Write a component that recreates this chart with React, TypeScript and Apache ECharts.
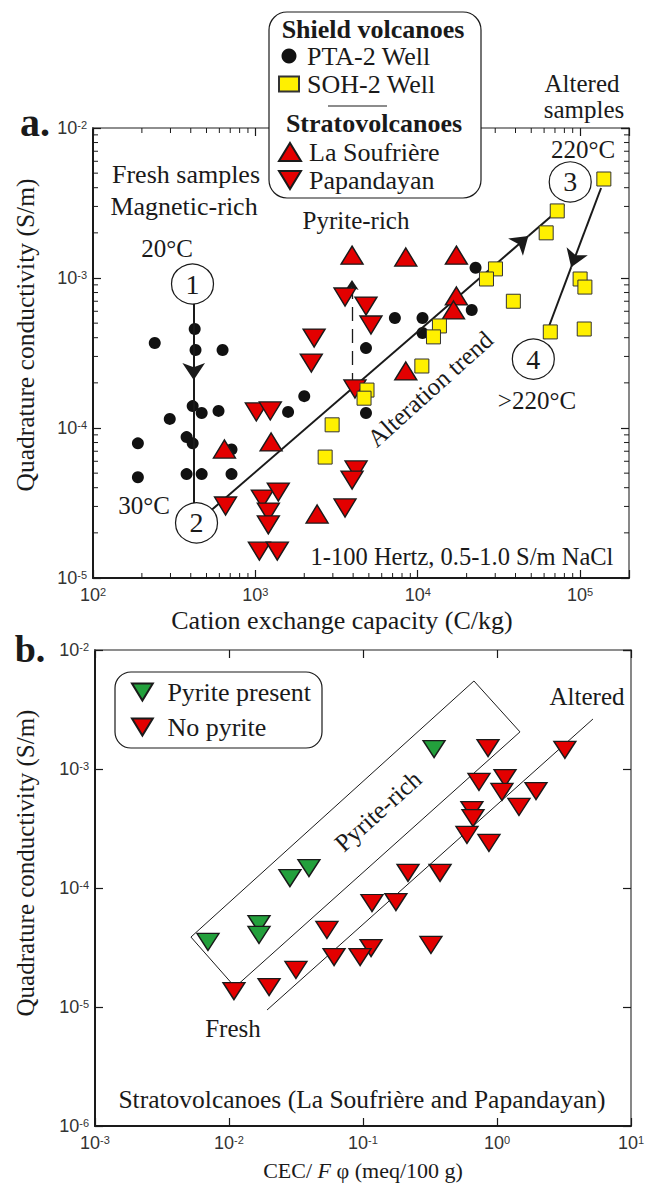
import { useEffect, useRef } from 'react';
import * as echarts from 'echarts';

const SERIF = 'Liberation Serif, serif';
const SANS = 'Liberation Sans, Arial, sans-serif';
const INK = '#1a1a1a';
const RED = '#e30000';
const GREEN = '#23a03c';
const YELLOW = '#fff000';
const DOWN_TRIANGLE = 'path://M0,0 L22,0 L11,18 Z';

// ---------- Panel a: CEC (C/kg) vs quadrature conductivity (S/m) ----------
const ptaCec = [423, 240, 428, 628, 411, 467, 593, 297, 1590, 2000, 4800, 4800, 7230, 189, 377, 411, 713, 189, 377, 467, 713, 10700, 10700, 21500, 22700];
const ptaSigma = [4.57e-4, 3.69e-4, 3.31e-4, 3.31e-4, 1.4e-4, 1.26e-4, 1.3e-4, 1.15e-4, 1.28e-4, 1.63e-4, 3.41e-4, 1.26e-4, 5.41e-4, 7.9e-5, 8.7e-5, 7.9e-5, 7.2e-5, 4.7e-5, 4.93e-5, 4.93e-5, 4.93e-5, 5.41e-4, 4.3e-4, 6.12e-4, 1.17e-3];

const sohCec = [140000, 72300, 61800, 30100, 26500, 100000, 107000, 38800, 13600, 12500, 65500, 106000, 10600, 4870, 4670, 2970, 2690];
const sohSigma = [4.57e-3, 2.8e-3, 2.0e-3, 1.15e-3, 9.85e-4, 9.85e-4, 8.7e-4, 7.0e-4, 4.79e-4, 4.05e-4, 4.37e-4, 4.57e-4, 2.59e-4, 1.79e-4, 1.58e-4, 1.05e-4, 6.4e-5];

const soufriereCec = [3940, 8440, 17300, 17300, 16600, 8440, 2400, 645, 1250];
const soufriereSigma = [1.42e-3, 1.38e-3, 1.42e-3, 7.59e-4, 6.12e-4, 2.4e-4, 2.67e-5, 7.24e-5, 8.07e-5];

const papandayanCec = [3565, 4800, 5150, 2300, 2210, 4105, 1014, 1236, 655, 1104, 1384, 1202, 1202, 1059, 1365, 4170, 3940, 3565];
const papandayanSigma = [7.47e-4, 6.5e-4, 4.86e-4, 3.98e-4, 2.71e-4, 1.82e-4, 1.28e-4, 1.3e-4, 3.02e-5, 3.36e-5, 3.74e-5, 2.75e-5, 2.26e-5, 1.51e-5, 1.51e-5, 5.25e-5, 4.5e-5, 2.93e-5];

// Numbered alteration stages
const stageLabels = ['1', '2', '3', '4'];
const stageCec = [410, 434, 86900, 51500];
const stageSigma = [9.12e-4, 2.33e-5, 4.37e-3, 2.88e-4];

// Path segments between stages: [x1, y1, x2, y2, arrowhead at end]
const stagePaths = [
  [417, 6.71e-4, 417, 2.09e-4, 1],
  [417, 2.09e-4, 417, 3.16e-5, 0],
  [537, 2.84e-5, 48000, 1.905e-3, 1],
  [48000, 1.905e-3, 79800, 3.07e-3, 0],
  [134600, 3.98e-3, 88100, 1.18e-3, 1],
  [88100, 1.18e-3, 60100, 3.92e-4, 0],
];
// Dashed pyrite shift
const pyriteShift = [3936, 1.875e-4, 3936, 9.7e-4];

// ---------- Panel b: CEC/Fφ (meq/100 g) vs quadrature conductivity ----------
const pyriteX = [0.339, 0.0395, 0.0285, 0.01675, 0.01675, 0.00697];
const pyriteY = [1.47e-3, 1.47e-4, 1.21e-4, 4.98e-5, 4.03e-5, 3.52e-5];

const noPyriteX = [0.857, 3.21, 0.734, 1.148, 1.089, 1.954, 1.459, 0.65, 0.662, 0.597, 0.871, 0.2168, 0.376, 0.1167, 0.176, 0.0538, 0.1148, 0.0951, 0.0608, 0.3215, 0.0316, 0.0199, 0.01089];
const noPyriteY = [1.5e-3, 1.45e-3, 7.78e-4, 8.4e-4, 6.41e-4, 6.53e-4, 4.8e-4, 4.52e-4, 3.87e-4, 2.79e-4, 2.39e-4, 1.34e-4, 1.34e-4, 7.48e-5, 7.62e-5, 4.44e-5, 3.13e-5, 2.63e-5, 2.63e-5, 3.32e-5, 2.05e-5, 1.47e-5, 1.36e-5];

const pyriteBoxX = [0.673, 1.484, 0.01109, 0.0052, 0.673];
const pyriteBoxY = [5.49e-3, 2.05e-3, 1.47e-5, 3.87e-5, 5.49e-3];
const alteredLineX = [0.01923, 5.2];
const alteredLineY = [9.44e-6, 2.63e-3];

// ---------- Axes ----------
const aX = [100, 2e5];
const aY = [1e-5, 1e-2];
const bX = [1e-3, 10];
const bY = [1e-6, 1e-2];
const decadesAX = [100, 1000, 10000, 100000];
const decadesAY = [1e-5, 1e-4, 1e-3];
const minorSteps = [2, 3, 4, 5, 6, 7, 8, 9];

const minorTicks = (decades: number[], lo: number, hi: number) => {
  const out: number[] = [];
  decades.forEach((d) => minorSteps.forEach((m) => {
    const v = d * m;
    if (v > lo * 1.0001 && v < hi * 0.9999) out.push(v);
  }));
  return out;
};

const powerLabel = (v: number) => {
  const l = Math.log10(v);
  const e = Math.round(l);
  if (Math.abs(l - e) > 1e-6) return '';
  return `{m|10}{e|${e}}`;
};
const tickRich = {
  m: { fontFamily: SANS, fontSize: 18, color: '#333' },
  e: { fontFamily: SANS, fontSize: 11, color: '#333', verticalAlign: 'top' },
};

const serifRich = (size: number, extra: any = {}) => ({
  t: { fontFamily: SERIF, fontSize: size, color: INK, ...extra },
  i: { fontFamily: SERIF, fontSize: size, color: INK, fontStyle: 'italic', ...extra },
});

const majorTick = { show: true, inside: true, length: 8, lineStyle: { color: INK, width: 1.2 } };
const mainLine = { show: true, lineStyle: { color: INK, width: 2 } };
const farLine = { show: true, lineStyle: { color: '#6a6a6a', width: 1.6 } };

const logAxis = (gridIndex: number, range: number[], position: string, extra: any) => ({
  type: 'log',
  logBase: 10,
  gridIndex,
  min: range[0],
  max: range[1],
  position,
  splitLine: { show: false },
  axisTick: majorTick,
  ...extra,
});

const tickSeries = (vals: number[], horizontal: boolean, xr: number[], yr: number[], xi: number, yi: number) => ({
  type: 'custom',
  xAxisIndex: xi,
  yAxisIndex: yi,
  silent: true,
  clip: false,
  z: 3,
  data: vals.map((v) => (horizontal ? [v, yr[0]] : [xr[0], v])),
  encode: { x: 0, y: 1 },
  renderItem: (params: any, api: any) => {
    const v = horizontal ? api.value(0) : api.value(1);
    const style = { stroke: INK, lineWidth: 1 };
    if (horizontal) {
      const b = api.coord([v, yr[0]]);
      const t = api.coord([v, yr[1]]);
      return {
        type: 'group',
        children: [
          { type: 'line', shape: { x1: b[0], y1: b[1], x2: b[0], y2: b[1] - 5 }, style },
          { type: 'line', shape: { x1: t[0], y1: t[1], x2: t[0], y2: t[1] + 5 }, style },
        ],
      };
    }
    const l = api.coord([xr[0], v]);
    const r = api.coord([xr[1], v]);
    return {
      type: 'group',
      children: [
        { type: 'line', shape: { x1: l[0], y1: l[1], x2: l[0] + 5, y2: l[1] }, style },
        { type: 'line', shape: { x1: r[0], y1: r[1], x2: r[0] - 5, y2: r[1] }, style },
      ],
    };
  },
});

const pairs = (xs: number[], ys: number[]) => xs.map((x, i) => [x, ys[i]]);

const triangleStyle = (color: string) => ({ color, borderColor: INK, borderWidth: 1.4, opacity: 1 });

const text = (t: string, x: number, y: number, size = 25, extra: any = {}, rotation = 0) => ({
  type: 'text',
  x,
  y,
  rotation,
  z: 20,
  style: { text: t, fontFamily: SERIF, fontSize: size, fill: INK, align: 'center', verticalAlign: 'middle', ...extra },
});

const legendBase = {
  orient: 'vertical',
  padding: 0,
  selectedMode: false,
  z: 10,
  formatter: (name: string) => `{t|${name}}`,
};

const buildOption = () => {
  const arrowLines: any[] = stagePaths.map((p) => [
    { coord: [p[0], p[1]], symbol: 'none' },
    { coord: [p[2], p[3]], symbol: p[4] ? 'arrow' : 'none', symbolSize: 17 },
  ]);
  arrowLines.push([
    { coord: [pyriteShift[0], pyriteShift[1]], symbol: 'none', lineStyle: { type: [14, 8], width: 1.3 } },
    { coord: [pyriteShift[2], pyriteShift[3]], symbol: 'arrow', symbolSize: 10 },
  ]);

  return {
    animation: false,
    backgroundColor: '#fff',
    textStyle: { fontFamily: SERIF },
    grid: [
      { left: 93, top: 128, width: 536, height: 450, outerBoundsMode: 'none' },
      { left: 95, top: 650, width: 536, height: 476, outerBoundsMode: 'none' },
    ],
    xAxis: [
      logAxis(0, aX, 'bottom', {
        axisLine: mainLine,
        axisLabel: { formatter: powerLabel, rich: tickRich, margin: 8 },
        name: '{t|Cation exchange capacity (C/kg)}',
        nameLocation: 'middle',
        nameGap: 29,
        nameTextStyle: { verticalAlign: 'top', padding: [0, 38, 0, 0], rich: serifRich(26) },
      }),
      logAxis(0, aX, 'top', { axisLine: farLine, axisLabel: { show: false } }),
      logAxis(1, bX, 'bottom', {
        axisLine: mainLine,
        axisLabel: { formatter: powerLabel, rich: tickRich, margin: 8 },
        name: '{t|CEC/ }{i|F}{t| φ (meq/100 g)}',
        nameLocation: 'middle',
        nameGap: 33,
        nameTextStyle: { verticalAlign: 'top', rich: serifRich(22) },
      }),
      logAxis(1, bX, 'top', { axisLine: farLine, axisLabel: { show: false } }),
    ],
    yAxis: [
      logAxis(0, aY, 'left', {
        axisLine: mainLine,
        axisLabel: { formatter: powerLabel, rich: tickRich, margin: 6 },
        name: '{t|Quadrature conductivity (S/m)}',
        nameLocation: 'middle',
        nameGap: 55,
        nameTextStyle: { padding: [0, 0, 0, 36], rich: serifRich(25.5) },
      }),
      logAxis(0, aY, 'right', { axisLine: farLine, axisLabel: { show: false } }),
      logAxis(1, bY, 'left', {
        axisLine: mainLine,
        axisLabel: { formatter: powerLabel, rich: tickRich, margin: 6 },
        name: '{t|Quadrature conductivity (S/m)}',
        nameLocation: 'middle',
        nameGap: 57,
        nameTextStyle: { padding: [0, 0, 0, 50], rich: serifRich(25) },
      }),
      logAxis(1, bY, 'right', { axisLine: farLine, axisLabel: { show: false } }),
    ],
    legend: [
      {
        ...legendBase,
        data: ['PTA-2 Well', 'SOH-2 Well'],
        left: 278,
        top: 43,
        itemWidth: 20,
        itemHeight: 15,
        itemGap: 2,
        textStyle: { rich: serifRich(26, { lineHeight: 26, padding: [0, 0, 0, 3] }) },
      },
      {
        ...legendBase,
        data: ['La Soufrière', { name: 'Papandayan', icon: DOWN_TRIANGLE }],
        left: 278,
        top: 139,
        itemWidth: 22,
        itemHeight: 18,
        itemGap: 2,
        textStyle: { rich: serifRich(26, { lineHeight: 26, padding: [0, 0, 0, 3] }) },
      },
      {
        ...legendBase,
        data: [
          { name: 'Pyrite present', icon: DOWN_TRIANGLE },
          { name: 'No pyrite', icon: DOWN_TRIANGLE },
        ],
        left: 131,
        top: 679,
        itemWidth: 22,
        itemHeight: 17,
        itemGap: 9,
        textStyle: { rich: serifRich(26, { lineHeight: 26, padding: [0, 0, 0, 9] }) },
      },
    ],
    series: [
      {
        name: 'PTA-2 Well',
        type: 'scatter',
        xAxisIndex: 0,
        yAxisIndex: 0,
        symbol: 'circle',
        symbolSize: 12,
        itemStyle: { color: '#111', opacity: 1 },
        z: 4,
        data: pairs(ptaCec, ptaSigma),
      },
      {
        name: 'Papandayan',
        type: 'scatter',
        xAxisIndex: 0,
        yAxisIndex: 0,
        symbol: 'triangle',
        symbolRotate: 180,
        symbolSize: [22, 18],
        itemStyle: triangleStyle(RED),
        z: 5,
        data: pairs(papandayanCec, papandayanSigma),
      },
      {
        name: 'La Soufrière',
        type: 'scatter',
        xAxisIndex: 0,
        yAxisIndex: 0,
        symbol: 'triangle',
        symbolSize: [22, 18],
        itemStyle: triangleStyle(RED),
        z: 5,
        data: pairs(soufriereCec, soufriereSigma),
      },
      {
        name: 'SOH-2 Well',
        type: 'scatter',
        xAxisIndex: 0,
        yAxisIndex: 0,
        symbol: 'rect',
        symbolSize: 14,
        itemStyle: { color: YELLOW, borderColor: '#333', borderWidth: 1, opacity: 1 },
        z: 6,
        data: pairs(sohCec, sohSigma),
      },
      {
        name: 'stages',
        type: 'scatter',
        xAxisIndex: 0,
        yAxisIndex: 0,
        symbol: 'circle',
        symbolSize: [42, 40],
        silent: true,
        z: 7,
        itemStyle: { color: '#fff', borderColor: INK, borderWidth: 1.2, opacity: 1 },
        label: {
          show: true,
          position: 'inside',
          formatter: '{t|{b}}',
          rich: serifRich(28),
        },
        data: stageLabels.map((n, i) => ({ name: n, value: [stageCec[i], stageSigma[i]] })),
        markLine: {
          silent: true,
          animation: false,
          symbol: ['none', 'arrow'],
          symbolSize: 17,
          label: { show: false },
          emphasis: { disabled: true },
          lineStyle: { color: INK, width: 2, type: 'solid' },
          data: arrowLines,
        },
      },
      tickSeries(minorTicks(decadesAX, aX[0], aX[1]), true, aX, aY, 0, 0),
      tickSeries(minorTicks(decadesAY, aY[0], aY[1]), false, aX, aY, 0, 0),
      {
        name: 'Pyrite present',
        type: 'scatter',
        xAxisIndex: 2,
        yAxisIndex: 2,
        symbol: 'triangle',
        symbolRotate: 180,
        symbolSize: [22, 17],
        itemStyle: triangleStyle(GREEN),
        z: 5,
        data: pairs(pyriteX, pyriteY),
      },
      {
        name: 'No pyrite',
        type: 'scatter',
        xAxisIndex: 2,
        yAxisIndex: 2,
        symbol: 'triangle',
        symbolRotate: 180,
        symbolSize: [22, 17],
        itemStyle: triangleStyle(RED),
        z: 5,
        data: pairs(noPyriteX, noPyriteY),
      },
      {
        name: 'pyrite-rich field',
        type: 'line',
        xAxisIndex: 2,
        yAxisIndex: 2,
        symbol: 'none',
        silent: true,
        z: 3,
        lineStyle: { color: INK, width: 1 },
        data: pairs(pyriteBoxX, pyriteBoxY),
      },
      {
        name: 'alteration line',
        type: 'line',
        xAxisIndex: 2,
        yAxisIndex: 2,
        symbol: 'none',
        silent: true,
        z: 3,
        lineStyle: { color: INK, width: 1 },
        data: pairs(alteredLineX, alteredLineY),
      },
    ],
    graphic: [
      // legend frame, panel a
      { type: 'rect', z: 8, shape: { x: 269, y: 12, width: 212, height: 186, r: 18 }, style: { fill: '#fff', stroke: INK, lineWidth: 1.2 } },
      { type: 'line', z: 9, shape: { x1: 328, y1: 106, x2: 387, y2: 106 }, style: { stroke: INK, lineWidth: 1.2 } },
      text('Shield volcanoes', 373, 29, 26, { fontWeight: 'bold' }),
      text('Stratovolcanoes', 374, 123, 26, { fontWeight: 'bold' }),
      // legend frame, panel b
      { type: 'rect', z: 8, shape: { x: 115, y: 672, width: 207, height: 76, r: 16 }, style: { fill: '#fff', stroke: INK, lineWidth: 1.2 } },
      // panel letters
      text('a.', 35, 122, 40, { fontWeight: 'bold' }),
      text('b.', 30, 649, 38, { fontWeight: 'bold' }),
      // panel a notes
      text('Fresh samples', 186, 174, 26),
      text('Magnetic-rich', 184, 206, 26),
      text('20°C', 167, 248, 25),
      text('30°C', 144, 505, 25),
      text('Pyrite-rich', 356, 220, 25),
      text('Altered', 582, 83, 25),
      text('samples', 584, 109, 25),
      text('220°C', 583, 149, 25),
      text('>220°C', 537, 400, 25),
      text('Alteration trend', 430, 389, 25, {}, (42 * Math.PI) / 180),
      text('1-100 Hertz, 0.5-1.0 S/m NaCl', 462, 556, 24.5),
      // panel b notes
      text('Pyrite-rich', 378, 811, 25, {}, (42 * Math.PI) / 180),
      text('Altered', 587, 696, 25),
      text('Fresh', 233, 1028, 25),
      text('Stratovolcanoes (La Soufrière and Papandayan)', 362, 1099, 25.5),
    ],
  };
};

export default function App() {
  const ref = useRef<HTMLDivElement>(null);
  useEffect(() => {
    if (!ref.current) return;
    const chart = echarts.init(ref.current, undefined, { renderer: 'svg' });
    chart.setOption(buildOption() as any);
    return () => chart.dispose();
  }, []);
  return (
    <div
      ref={ref}
      style={{ position: 'absolute', left: 0, top: 0, width: 667, height: 1191, background: '#fff' }}
    />
  );
}
